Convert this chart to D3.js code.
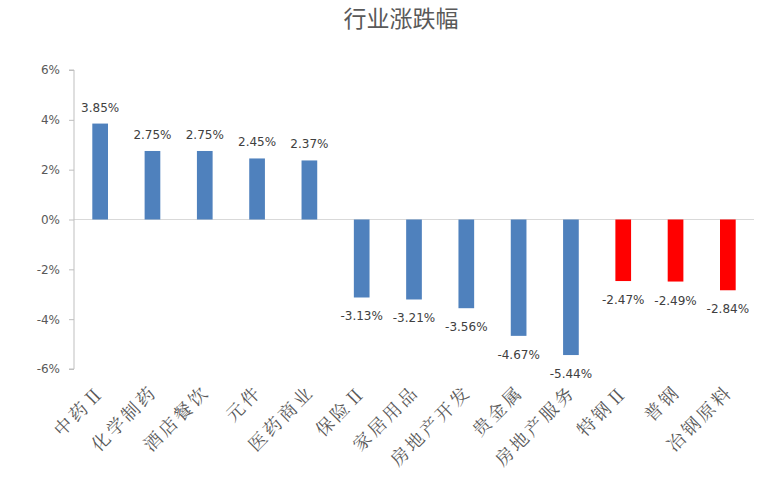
<!DOCTYPE html>
<html><head><meta charset="utf-8">
<script src="https://cdn.jsdelivr.net/npm/d3@7"></script>
<style>body{margin:0;background:#fff}</style>
</head><body>
<svg id="c" width="763" height="493"></svg>
<script>
const categories = ["中药Ⅱ","化学制药","酒店餐饮","元件","医药商业","保险Ⅱ","家居用品","房地产开发","贵金属","房地产服务","特钢Ⅱ","普钢","冶钢原料"];
const values = [3.85,2.75,2.75,2.45,2.37,-3.13,-3.21,-3.56,-4.67,-5.44,-2.47,-2.49,-2.84];
const highlight = [false,false,false,false,false,false,false,false,false,false,true,true,true];
const yTicks = [-6,-4,-2,0,2,4,6];
const title = "行业涨跌幅";

const svg = d3.select("#c");
const mLeft = 74, mRight = 754, mTop = 70, mBottom = 369;
const x = d3.scaleBand().domain(categories).range([mLeft, mRight]).paddingInner(0.7).paddingOuter(0.35);
const y = d3.scaleLinear().domain([-6, 6]).range([mBottom, mTop]);

svg.append("text").attr("x", 401).attr("y", 27).attr("text-anchor","middle")
  .attr("font-family","'Noto Sans CJK SC'").attr("font-size",23).attr("fill","#595959").text(title);

// zero line
svg.append("line").attr("x1", mLeft).attr("x2", mRight).attr("y1", y(0)).attr("y2", y(0))
  .attr("stroke","#d9d9d9").attr("stroke-width",1);

// y axis
const ya = svg.append("g").attr("transform",`translate(${mLeft},0)`)
  .call(d3.axisLeft(y).tickValues(yTicks).tickSize(5).tickPadding(9).tickFormat(d => d + "%"));
ya.select(".domain").attr("stroke","#bfbfbf").attr("d", `M-5,${y(6)}H0V${y(-6)}H-5`);
ya.selectAll(".tick line").attr("stroke","#bfbfbf");
ya.selectAll(".tick text").attr("font-family","'DejaVu Sans'").attr("font-size",12).attr("fill","#595959");

// bars
svg.selectAll("rect.bar").data(categories).enter().append("rect")
  .attr("x", d => x(d)).attr("width", x.bandwidth())
  .attr("y", (d,i) => y(Math.max(0, values[i])))
  .attr("height", (d,i) => Math.abs(y(values[i]) - y(0)))
  .attr("fill", (d,i) => highlight[i] ? "#ff0000" : "#4f81bd");

// value labels
svg.selectAll("text.val").data(categories).enter().append("text")
  .attr("x", d => x(d) + x.bandwidth()/2)
  .attr("y", (d,i) => values[i] >= 0 ? y(values[i]) - 12 : y(values[i]) + 23)
  .attr("text-anchor","middle").attr("font-family","'DejaVu Sans'").attr("font-size",12).attr("fill","#404040")
  .text((d,i) => values[i].toFixed(2) + "%");

// category labels
svg.selectAll("text.cat").data(categories).enter().append("text")
  .attr("transform", d => `translate(${x(d) + x.bandwidth()/2 + 6},393) rotate(-45)`)
  .attr("text-anchor","end").attr("font-family","'Noto Serif CJK SC','Noto Sans CJK SC'").attr("font-size",18)
  .attr("letter-spacing",3).attr("fill","#595959")
  .text(d => d);
</script>
</body></html>
